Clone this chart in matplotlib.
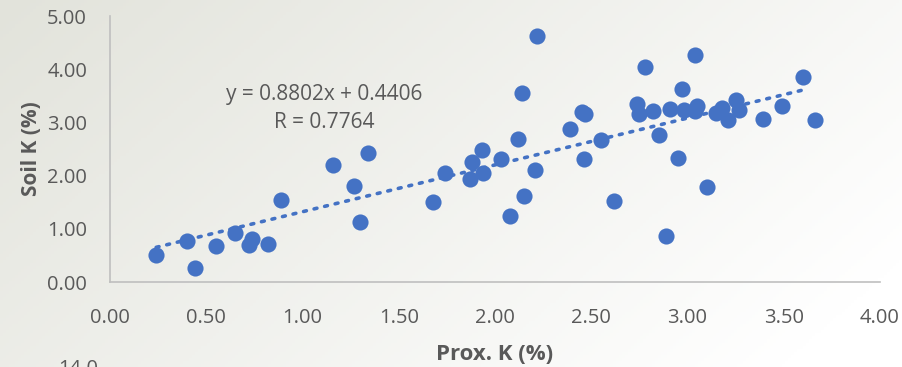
import numpy as np
import matplotlib.pyplot as plt

# Prox. K (%) vs Soil K (%) values
prox_k = [0.24, 0.40, 0.44, 0.55, 0.65, 0.72, 0.74, 0.82, 0.89, 1.16, 1.27, 1.34, 1.30,
          1.68, 1.74, 2.22, 2.14, 1.93, 1.88, 1.87, 1.94, 2.03, 2.12, 2.21, 2.15, 2.08,
          2.39, 2.45, 2.47, 2.46, 2.55, 2.62, 2.78, 2.74, 2.75, 2.82, 2.85, 2.89, 2.91,
          2.97, 2.95, 2.98, 3.04, 3.05, 3.04, 3.10, 3.15, 3.18, 3.21, 3.25, 3.27, 3.39,
          3.49, 3.60, 3.66]
soil_k = [0.51, 0.77, 0.26, 0.68, 0.93, 0.70, 0.80, 0.71, 1.54, 2.20, 1.81, 2.42, 1.12,
          1.50, 2.04, 4.63, 3.56, 2.48, 2.25, 1.93, 2.05, 2.32, 2.69, 2.11, 1.61, 1.25,
          2.88, 3.20, 3.16, 2.31, 2.66, 1.52, 4.04, 3.35, 3.16, 3.21, 2.76, 0.86, 3.26,
          3.63, 2.33, 3.24, 4.27, 3.31, 3.21, 1.78, 3.17, 3.28, 3.05, 3.42, 3.23, 3.06,
          3.31, 3.85, 3.04]

slope = 0.8802
intercept = 0.4406
r_value = 0.7764

blue = '#4472C4'
grey = '#595959'
font = 'Open Sans'

fig = plt.figure(figsize=(9.02, 3.67), dpi=100)

# background gradient (greyish left -> white right)
bg = fig.add_axes([0, 0, 1, 1], zorder=-10)
gx = np.linspace(0, 1, 300)
gy = np.linspace(0, 1, 120)
GX, GY = np.meshgrid(gx, gy)
t = np.clip(0.75 * GX + 0.35 * GY, 0, 1)
c0 = np.array([226, 227, 219]) / 255.0
c1 = np.array([255, 255, 255]) / 255.0
img = c0[None, None, :] * (1 - t[..., None]) + c1[None, None, :] * t[..., None]
bg.imshow(img, aspect='auto', extent=[0, 1, 0, 1], origin='upper')
bg.axis('off')

ax = fig.add_axes([110 / 902, 1 - 282 / 367, 770 / 902, 266 / 367])
ax.patch.set_alpha(0)

ax.scatter(prox_k, soil_k, s=135, color=blue, zorder=3, linewidths=0)

xs = np.array([min(prox_k), 3.63])
ax.plot(xs, slope * xs + intercept, color=blue, lw=2.6,
        linestyle=(0, (0.8, 2.2)), dash_capstyle='round', zorder=2)

ax.text(1.112, 3.53, 'y = 0.8802x + 0.4406', ha='center', va='center',
        fontsize=15, color=grey, family=font)
ax.text(1.112, 2.99, 'R = %.4f' % r_value, ha='center', va='center',
        fontsize=15, color=grey, family=font)

ax.set_xlim(0, 4)
ax.set_ylim(0, 5)
ax.set_xticks(np.arange(0, 4.01, 0.5))
ax.set_yticks(np.arange(0, 5.01, 1))
ax.set_xticklabels(['%.2f' % v for v in np.arange(0, 4.01, 0.5)])
ax.set_yticklabels(['%.2f' % v for v in np.arange(0, 5.01, 1)])
ax.tick_params(length=0, labelsize=14.5, labelcolor=grey)
for lab in ax.get_xticklabels() + ax.get_yticklabels():
    lab.set_family(font)
ax.tick_params(axis='x', pad=19)
ax.tick_params(axis='y', pad=16.5)

for side in ['top', 'right']:
    ax.spines[side].set_visible(False)
for side in ['left', 'bottom']:
    ax.spines[side].set_color('#bfbfbf')
    ax.spines[side].set_linewidth(1.2)

ax.set_xlabel('Prox. K (%)', fontsize=16, fontweight='bold', color=grey,
              family=font, labelpad=11)
ax.set_ylabel('Soil K (%)', fontsize=15, fontweight='bold', color=grey,
              family=font, labelpad=4)

# top of the next chart's axis label peeking in at the bottom
fig.text(58 / 902, 1 - 359 / 367, '14.0', fontsize=14.5, color=grey,
         family=font, va='top', ha='left')

fig.savefig('out.png', dpi=100)
